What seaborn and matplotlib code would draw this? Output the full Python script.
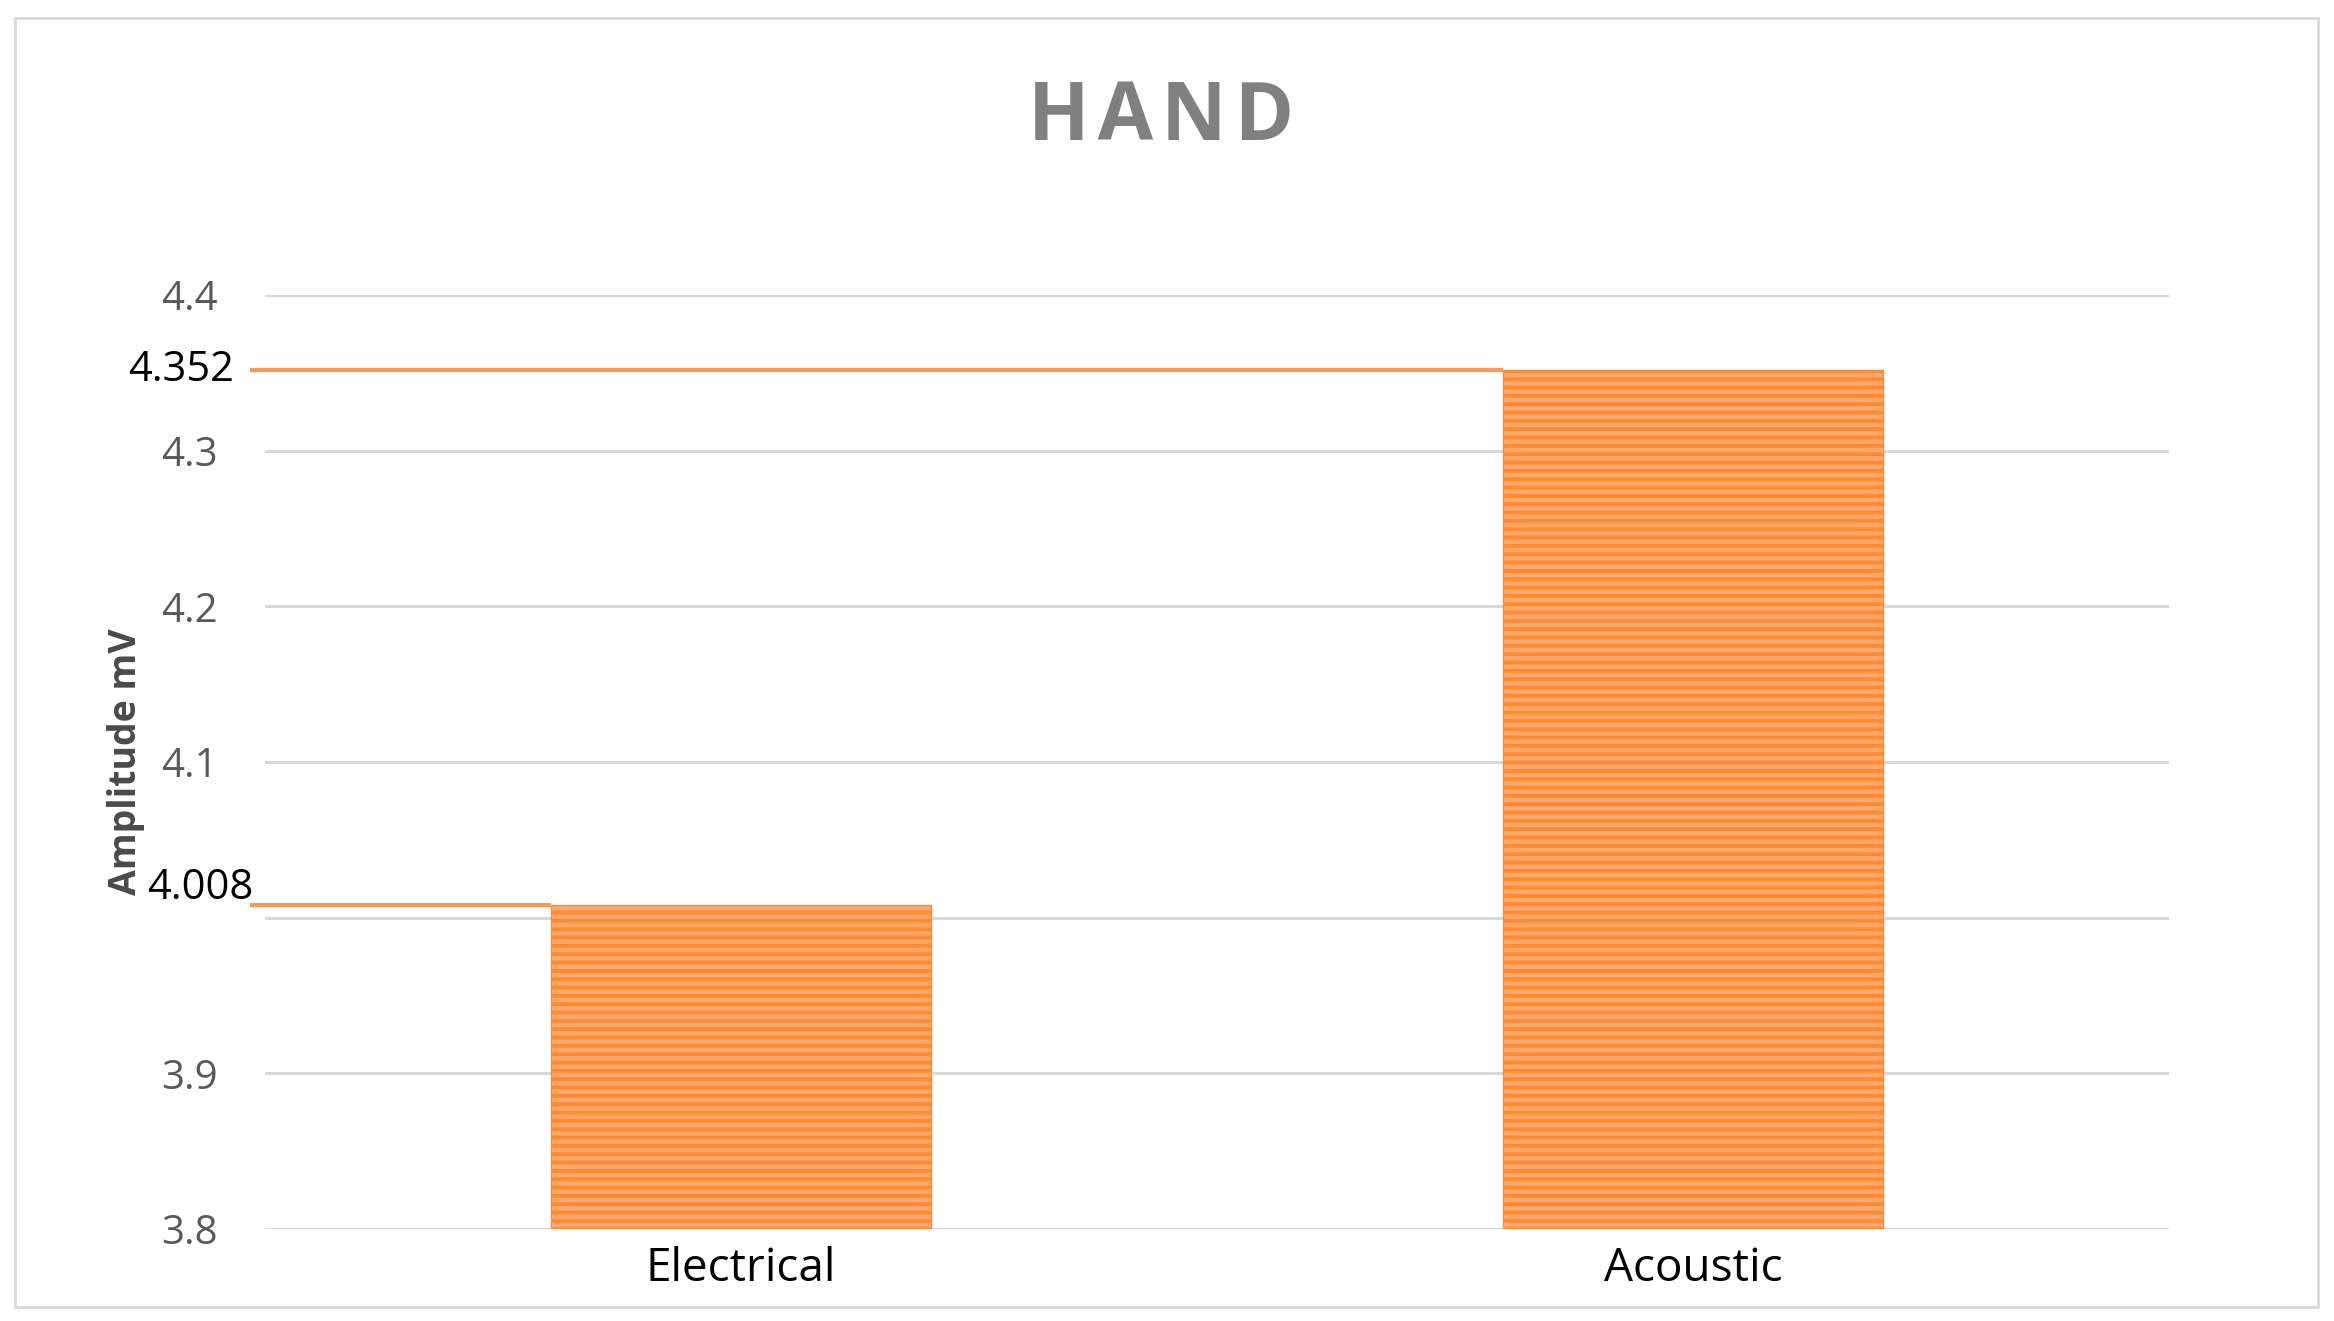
import pandas as pd
import seaborn as sns
import matplotlib.pyplot as plt
import matplotlib.transforms as mtransforms
from matplotlib.patches import Rectangle

# data
categories = ['Electrical', 'Acoustic']
amplitude = [4.008, 4.352]
y_ticks = [3.8, 3.9, 4.0, 4.1, 4.2, 4.3, 4.4]
y_tick_labels = ['3.8', '3.9', '', '4.1', '4.2', '4.3', '4.4']

df = pd.DataFrame({'category': categories, 'amplitude': amplitude})

sns.set_style('white')
plt.rcParams['font.family'] = ['Open Sans', 'DejaVu Sans']
plt.rcParams['hatch.color'] = '#FF7300'
plt.rcParams['hatch.linewidth'] = 2.8

fig = plt.figure(figsize=(23.34, 13.21), dpi=100)
ax = fig.add_axes([0.1135, 0.0697, 0.8158, 0.707])

sns.barplot(data=df, x='category', y='amplitude', color='#FDA86C', width=0.4,
            saturation=1, ax=ax, zorder=3)
for p in ax.patches:
    p.set_hatch('--')
    p.set_edgecolor('#FF8A33')
    p.set_linewidth(1.0)

ax.set_ylim(3.8, 4.4)
ax.set_xlim(-0.5, 1.5)
ax.set_yticks(y_ticks)
ax.set_yticklabels(y_tick_labels)
ax.yaxis.grid(True, color='#D9D9D9', linewidth=2.2, zorder=0)
ax.xaxis.grid(False)
for s in ax.spines.values():
    s.set_visible(False)
ax.tick_params(axis='y', length=0, pad=34, labelsize=29, labelcolor='#595959')
ax.tick_params(axis='x', length=0, pad=12, labelsize=33, labelcolor='black')
ax.set_xlabel('')
ax.set_ylabel('Amplitude mV', fontsize=27, fontweight='bold', color='#4A4A4A')
ax.yaxis.set_label_coords(-0.063, 0.5)

# value lines running from the axis to each bar
trans = mtransforms.blended_transform_factory(ax.transAxes, ax.transData)
for p, v in zip(ax.patches, amplitude):
    ax.hlines(v, -0.516, p.get_x(), color='#F79A5A', linewidth=3, clip_on=False, zorder=4)

ax.text(-0.0163, amplitude[1], '4.352', transform=trans, ha='right', va='center',
        fontsize=30, color='black')
ax.text(-0.0063, amplitude[0] + 0.011, '4.008', transform=trans, ha='right', va='center',
        fontsize=30, color='black')

fig.text(0.4975, 0.91, 'H\u200aA\u200aN\u200aD', ha='center', va='center', fontsize=58,
         fontweight='bold', color='#808080')

fig.patches.append(Rectangle((15 / 2334, 1 - 1307 / 1321), 2303 / 2334, 1289 / 1321,
                             transform=fig.transFigure, fill=False,
                             edgecolor='#D9D9D9', linewidth=2))

fig.savefig('out.png', dpi=100)
